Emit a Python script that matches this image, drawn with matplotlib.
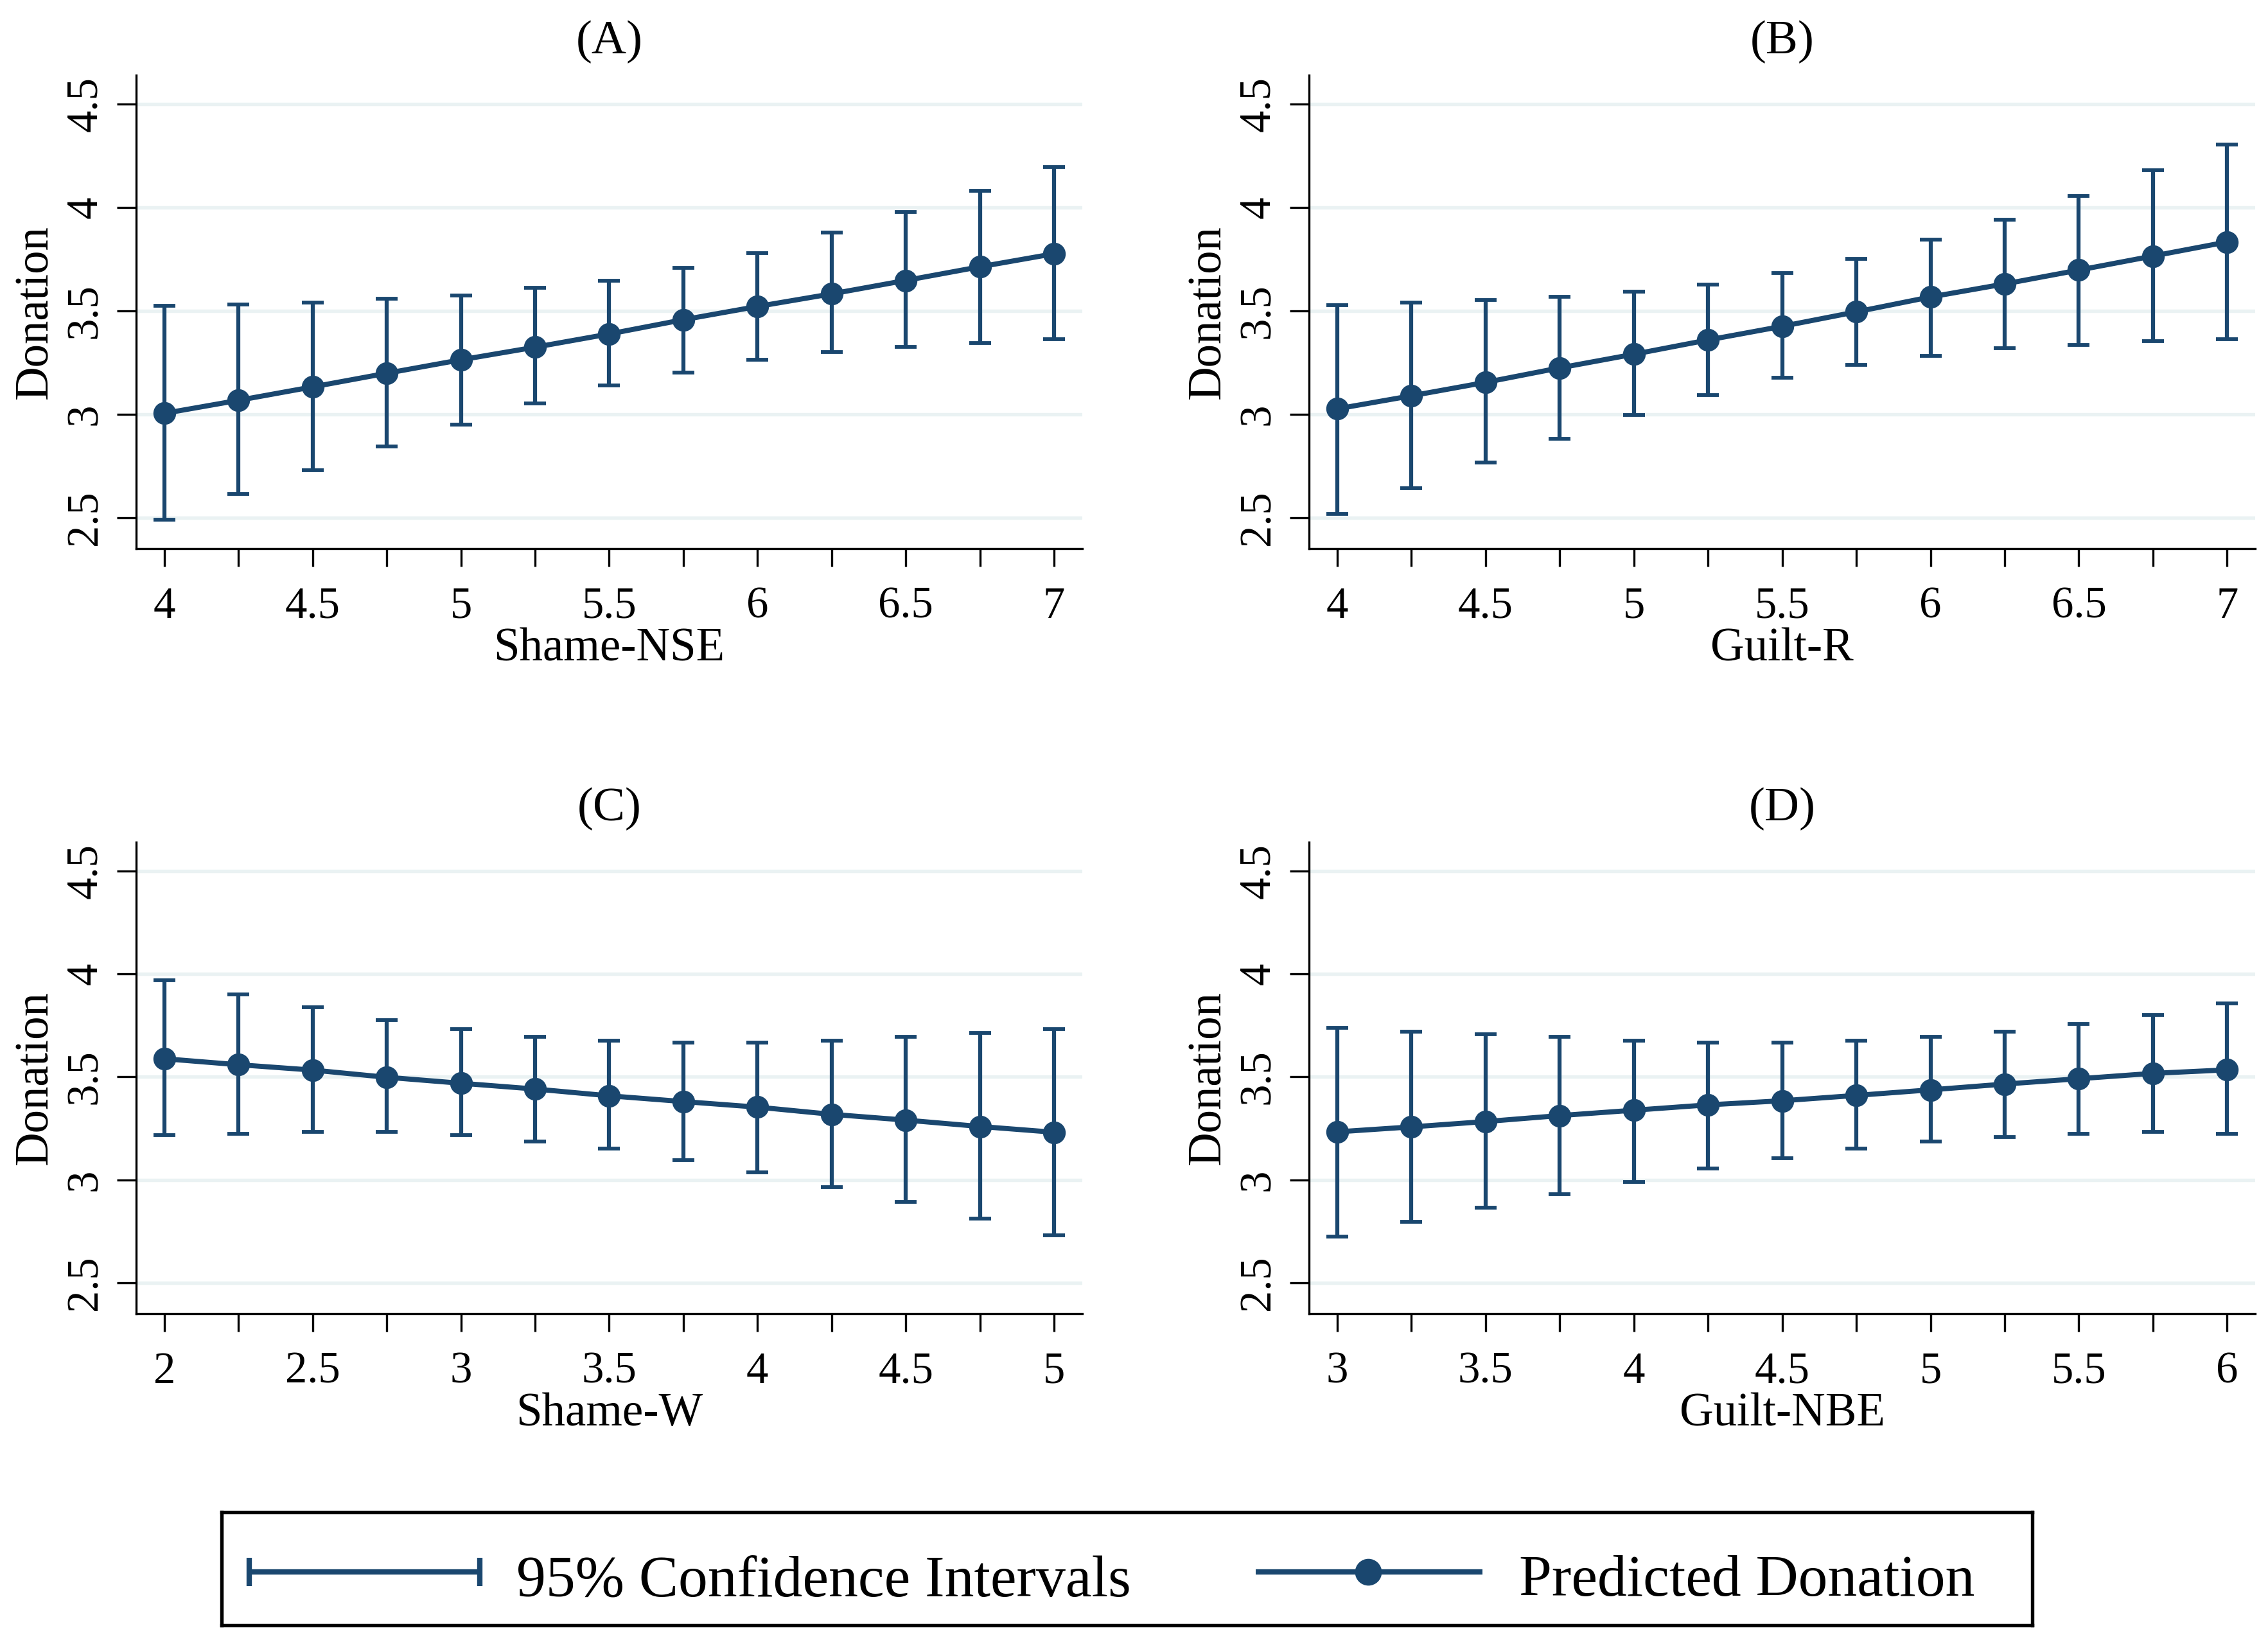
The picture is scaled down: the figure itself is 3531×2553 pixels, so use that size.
import matplotlib
matplotlib.use("Agg")
import matplotlib.pyplot as plt
from matplotlib.ticker import MultipleLocator, FuncFormatter

plt.rcParams["font.family"] = ["Liberation Serif", "DejaVu Serif"]

NAVY = "#1a476f"
GRID = "#eaf2f3"

# Panel A: Shame-NSE
shame_nse_x = [4, 4.25, 4.5, 4.75, 5, 5.25, 5.5, 5.75, 6, 6.25, 6.5, 6.75, 7]
shame_nse_mean = [3.004, 3.067, 3.132, 3.198, 3.263, 3.324, 3.388, 3.457, 3.521, 3.582, 3.647, 3.713, 3.776]
shame_nse_lo = [2.489, 2.613, 2.729, 2.845, 2.951, 3.052, 3.139, 3.200, 3.263, 3.300, 3.324, 3.344, 3.364]
shame_nse_hi = [3.523, 3.532, 3.540, 3.558, 3.575, 3.612, 3.645, 3.708, 3.780, 3.878, 3.977, 4.081, 4.197]

# Panel B: Guilt-R
guilt_r_x = [4, 4.25, 4.5, 4.75, 5, 5.25, 5.5, 5.75, 6, 6.25, 6.5, 6.75, 7]
guilt_r_mean = [3.026, 3.089, 3.154, 3.224, 3.290, 3.359, 3.425, 3.495, 3.567, 3.630, 3.697, 3.765, 3.833]
guilt_r_lo = [2.517, 2.642, 2.766, 2.882, 2.997, 3.093, 3.176, 3.237, 3.281, 3.318, 3.335, 3.353, 3.364]
guilt_r_hi = [3.527, 3.540, 3.551, 3.567, 3.593, 3.628, 3.682, 3.752, 3.844, 3.942, 4.055, 4.179, 4.304]

# Panel C: Shame-W
shame_w_x = [2, 2.25, 2.5, 2.75, 3, 3.25, 3.5, 3.75, 4, 4.25, 4.5, 4.75, 5]
shame_w_mean = [3.588, 3.559, 3.533, 3.498, 3.469, 3.441, 3.408, 3.380, 3.353, 3.318, 3.290, 3.259, 3.231]
shame_w_lo = [3.216, 3.224, 3.233, 3.233, 3.216, 3.187, 3.152, 3.097, 3.036, 2.964, 2.894, 2.813, 2.732]
shame_w_hi = [3.970, 3.900, 3.839, 3.776, 3.732, 3.695, 3.677, 3.668, 3.668, 3.677, 3.695, 3.714, 3.732]

# Panel D: Guilt-NBE
guilt_nbe_x = [3, 3.25, 3.5, 3.75, 4, 4.25, 4.5, 4.75, 5, 5.25, 5.5, 5.75, 6]
guilt_nbe_mean = [3.233, 3.257, 3.283, 3.312, 3.338, 3.364, 3.384, 3.410, 3.437, 3.465, 3.491, 3.517, 3.534]
guilt_nbe_lo = [2.723, 2.795, 2.865, 2.929, 2.990, 3.054, 3.106, 3.152, 3.187, 3.207, 3.224, 3.233, 3.224]
guilt_nbe_hi = [3.739, 3.721, 3.706, 3.693, 3.677, 3.668, 3.668, 3.677, 3.693, 3.721, 3.756, 3.802, 3.856]

panels = [
    ("(A)", "Shame-NSE", shame_nse_x, shame_nse_mean, shame_nse_lo, shame_nse_hi),
    ("(B)", "Guilt-R", guilt_r_x, guilt_r_mean, guilt_r_lo, guilt_r_hi),
    ("(C)", "Shame-W", shame_w_x, shame_w_mean, shame_w_lo, shame_w_hi),
    ("(D)", "Guilt-NBE", guilt_nbe_x, guilt_nbe_mean, guilt_nbe_lo, guilt_nbe_hi),
]

y_ticks = [2.5, 3, 3.5, 4, 4.5]

fig = plt.figure(figsize=(3531 / 300, 2553 / 300), dpi=300)

rects = [
    [0.0600, 0.6655, 0.4172, 0.2887],
    [0.5772, 0.6655, 0.4172, 0.2887],
    [0.0600, 0.1990, 0.4172, 0.2875],
    [0.5772, 0.1990, 0.4172, 0.2875],
]

for rect, (title, xlabel, x, mean, lo, hi) in zip(rects, panels):
    ax = fig.add_axes(rect)
    yerr = [[m - l for m, l in zip(mean, lo)], [h - m for m, h in zip(mean, hi)]]
    ax.errorbar(x, mean, yerr=yerr, fmt="none", ecolor=NAVY, elinewidth=1.5,
                capsize=4, capthick=1.4, zorder=3)
    ax.plot(x, mean, "-o", color=NAVY, lw=1.9, ms=7.5, zorder=4)

    ax.set_xlim(min(x) - 0.095, max(x) + 0.095)
    ax.set_ylim(2.35, 4.64)
    ax.set_yticks(y_ticks)
    ax.xaxis.set_major_locator(MultipleLocator(0.5))
    ax.xaxis.set_minor_locator(MultipleLocator(0.25))
    ax.xaxis.set_major_formatter(FuncFormatter(lambda v, p: f"{v:g}"))
    ax.yaxis.set_major_formatter(FuncFormatter(lambda v, p: f"{v:g}"))

    ax.yaxis.grid(True, color=GRID, lw=1.3)
    ax.set_axisbelow(True)
    for s in ["top", "right"]:
        ax.spines[s].set_visible(False)
    for s in ["left", "bottom"]:
        ax.spines[s].set_linewidth(0.8)

    ax.tick_params(axis="x", which="both", direction="out", length=6.7, width=0.8,
                   pad=7.5, labelsize=16.5)
    ax.tick_params(axis="y", direction="out", length=7.2, width=0.8, pad=4,
                   labelsize=16.5, labelrotation=90)
    for lab in ax.get_yticklabels():
        lab.set_va("center")

    ax.set_title(title, fontsize=18, pad=8)
    ax.set_xlabel(xlabel, fontsize=17.5, labelpad=0)
    ax.set_ylabel("Donation", fontsize=17.5, labelpad=3)

# legend box
lax = fig.add_axes([0.0977, 0.0090, 0.7983, 0.0689])
lax.set_xlim(0, 1)
lax.set_ylim(0, 1)
lax.set_xticks([])
lax.set_yticks([])
for s in lax.spines.values():
    s.set_linewidth(1.3)
    s.set_color("black")

lax.plot([0.0153, 0.1426], [0.472, 0.472], color=NAVY, lw=2.0, solid_capstyle="butt")
lax.plot([0.0153, 0.1426], [0.472, 0.472], ls="none", marker="|", ms=10.5, mew=2.0, color=NAVY)
lax.text(0.1628, 0.26, "95% Confidence Intervals", fontsize=22, va="baseline", ha="left")

lax.plot([0.5711, 0.6964], [0.472, 0.472], color=NAVY, lw=2.0, solid_capstyle="butt")
lax.plot([0.6332], [0.472], ls="none", marker="o", ms=9, color=NAVY)
lax.text(0.7166, 0.26, "Predicted Donation", fontsize=22, va="baseline", ha="left")

fig.savefig("out.png", dpi=300)
